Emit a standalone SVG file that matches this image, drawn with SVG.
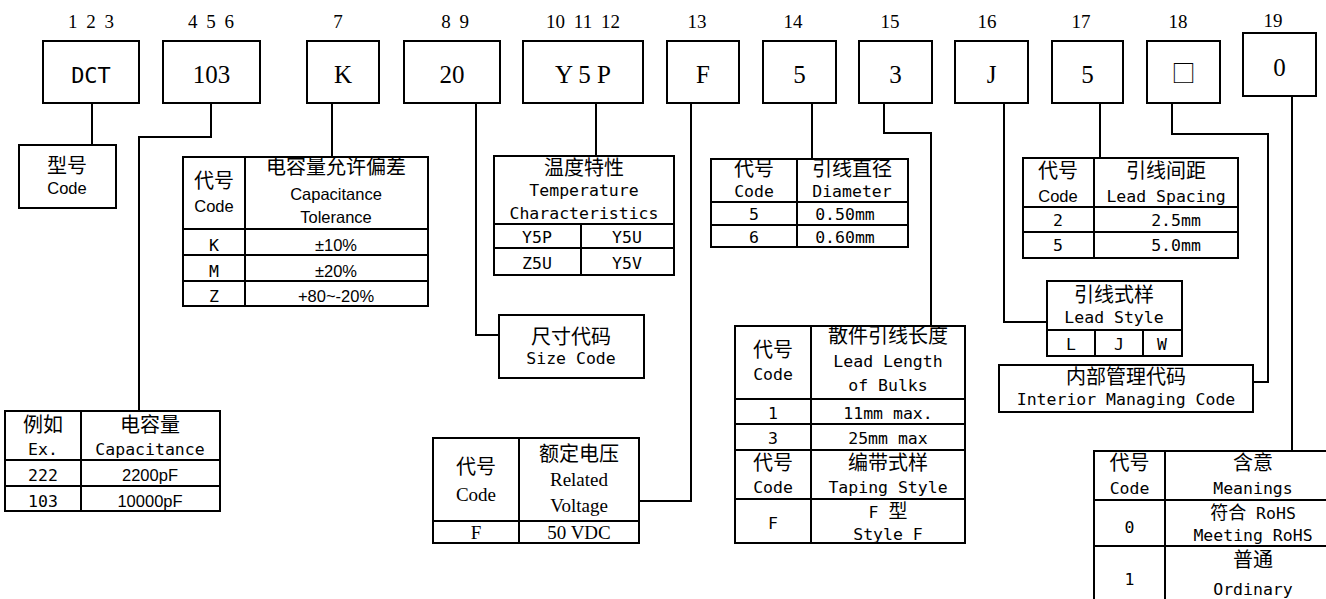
<svg xmlns="http://www.w3.org/2000/svg" width="1326" height="599" viewBox="0 0 1326 599">
<style>
text{text-anchor:middle;fill:#000}
.b{fill:#fff;stroke:#000;stroke-width:2}
.l{fill:none;stroke:#000;stroke-width:2}
.n{font-family:'Liberation Serif',serif;font-size:19px;word-spacing:4px}
.t{font-family:'Liberation Serif',serif;font-size:25px}
.d{font-family:'DejaVu Sans Mono',monospace;font-size:22px}
.c{font-family:'Noto Sans CJK SC',sans-serif;font-size:20px}
.m{font-family:'DejaVu Sans Mono','Noto Sans CJK SC',monospace;font-size:16.5px}
.a{font-family:'Liberation Sans','Noto Sans CJK SC',sans-serif;font-size:16.5px}
.s{font-family:'Liberation Serif',serif;font-size:19px}
</style>
<rect width="1326" height="599" fill="#fff"/>

<g id="labels">
<text class="n" x="91" y="28">1 2 3</text>
<text class="n" x="211" y="28">4 5 6</text>
<text class="n" x="338" y="28">7</text>
<text class="n" x="455" y="28">8 9</text>
<text class="n" x="583" y="28">10 11 12</text>
<text class="n" x="697" y="28">13</text>
<text class="n" x="793" y="28">14</text>
<text class="n" x="890" y="28">15</text>
<text class="n" x="987" y="28">16</text>
<text class="n" x="1081" y="28">17</text>
<text class="n" x="1178" y="28">18</text>
<text class="n" x="1273" y="27">19</text>
</g>

<g id="connectors" class="l">
<path d="M92 103V145"/>
<path d="M211 97V137H139V411"/>
<path d="M332 103V157"/>
<path d="M476 103V335H499"/>
<path d="M596 103V156"/>
<path d="M691 102V501H639"/>
<path d="M812 103V159"/>
<path d="M884 103V133H931V326"/>
<path d="M1004 103V322H1047"/>
<path d="M1100 103V158"/>
<path d="M1172 103V134H1268V382H1253"/>
<path d="M1292 96V451"/>
</g>

<g id="box-dct"><rect class="b" x="43" y="41" width="96" height="62"/><text class="d" x="91" y="83">DCT</text></g>
<g id="box-103"><rect class="b" x="163" y="41" width="97" height="62"/><text class="t" x="211.5" y="83">103</text></g>
<g id="box-k"><rect class="b" x="307" y="41" width="72" height="62"/><text class="t" x="343" y="83">K</text></g>
<g id="box-20"><rect class="b" x="404" y="41" width="96" height="62"/><text class="t" x="452" y="83">20</text></g>
<g id="box-y5p"><rect class="b" x="523" y="41" width="120" height="62"/><text class="t" x="583" y="83">Y 5 P</text></g>
<g id="box-f"><rect class="b" x="667" y="41" width="72" height="62"/><text class="t" x="703" y="83">F</text></g>
<g id="box-5a"><rect class="b" x="763" y="41" width="73" height="62"/><text class="t" x="799.5" y="83">5</text></g>
<g id="box-3"><rect class="b" x="859" y="41" width="73" height="62"/><text class="t" x="895.5" y="83">3</text></g>
<g id="box-j"><rect class="b" x="955" y="41" width="73" height="62"/><text class="t" x="991.5" y="83">J</text></g>
<g id="box-5b"><rect class="b" x="1052" y="41" width="71" height="62"/><text class="t" x="1087.5" y="83">5</text></g>
<g id="box-18"><rect class="b" x="1147" y="41" width="73" height="62"/><text class="c" x="1183.5" y="82" style="font-size:24px">□</text></g>
<g id="box-19"><rect class="b" x="1243" y="33" width="73" height="63"/><text class="t" x="1279.5" y="76">0</text></g>

<g id="type-code"><rect class="b" x="19" y="145" width="97" height="63"/>
<text class="c" x="67" y="173">型号</text><text class="a" x="67" y="194">Code</text></g>

<g id="tolerance-table"><rect class="b" x="183" y="157" width="245" height="149"/>
<path class="l" d="M245 157V306M183 229H428M183 255H428M183 281H428"/>
<text class="c" x="214" y="188">代号</text><text class="a" x="214" y="212">Code</text>
<text class="c" x="336" y="174">电容量允许偏差</text><text class="a" x="336" y="200">Capacitance</text><text class="a" x="336" y="223">Tolerance</text>
<text class="m" x="214" y="251">K</text><text class="a" x="336" y="251">±10%</text>
<text class="m" x="214" y="277">M</text><text class="a" x="336" y="277">±20%</text>
<text class="m" x="214" y="302">Z</text><text class="a" x="336" y="302">+80~-20%</text></g>

<g id="example-table"><rect class="b" x="5" y="411" width="215" height="100"/>
<path class="l" d="M81 411V511M5 460H220M5 486H220"/>
<text class="c" x="43" y="432">例如</text><text class="m" x="43" y="455">Ex.</text>
<text class="c" x="150" y="432">电容量</text><text class="m" x="150" y="455">Capacitance</text>
<text class="m" x="43" y="481">222</text><text class="a" x="150" y="481">2200pF</text>
<text class="m" x="43" y="507">103</text><text class="a" x="150" y="507">10000pF</text></g>

<g id="size-code"><rect class="b" x="499" y="315" width="145" height="63"/>
<text class="c" x="571" y="344">尺寸代码</text><text class="m" x="571" y="364">Size Code</text></g>

<g id="temp-table"><rect class="b" x="494" y="156" width="180" height="119"/>
<path class="l" d="M494 224H674M494 248H674M581 224V275"/>
<text class="c" x="584" y="175">温度特性</text><text class="m" x="584" y="196">Temperature</text><text class="m" x="584" y="219">Characteristics</text>
<text class="m" x="537" y="243">Y5P</text><text class="m" x="627" y="243">Y5U</text>
<text class="m" x="537" y="269">Z5U</text><text class="m" x="627" y="269">Y5V</text></g>

<g id="diameter-table"><rect class="b" x="711" y="159" width="197" height="88"/>
<path class="l" d="M797 159V247M711 202H908M711 225H908"/>
<text class="c" x="754" y="176">代号</text><text class="m" x="754" y="197">Code</text>
<text class="c" x="852" y="176">引线直径</text><text class="m" x="852" y="197">Diameter</text>
<text class="m" x="754" y="220">5</text><text class="m" x="845" y="220">0.50mm</text>
<text class="m" x="754" y="243">6</text><text class="m" x="845" y="243">0.60mm</text></g>

<g id="spacing-table"><rect class="b" x="1023" y="158" width="215" height="100"/>
<path class="l" d="M1094 158V258M1023 207H1238M1023 232H1238"/>
<text class="c" x="1058" y="178">代号</text><text class="a" x="1058" y="202">Code</text>
<text class="c" x="1166" y="178">引线间距</text><text class="m" x="1166" y="202">Lead Spacing</text>
<text class="m" x="1058" y="226">2</text><text class="m" x="1176" y="226">2.5mm</text>
<text class="m" x="1058" y="251">5</text><text class="m" x="1176" y="251">5.0mm</text></g>

<g id="lead-style"><rect class="b" x="1047" y="281" width="135" height="75"/>
<path class="l" d="M1047 330H1182M1095 330V356M1143 330V356"/>
<text class="c" x="1114" y="302">引线式样</text><text class="m" x="1114" y="323">Lead Style</text>
<text class="m" x="1071" y="350">L</text><text class="m" x="1119" y="350">J</text><text class="m" x="1162" y="350">W</text></g>

<g id="managing-code"><rect class="b" x="999" y="365" width="254" height="47"/>
<text class="c" x="1126" y="384">内部管理代码</text><text class="m" x="1126" y="405">Interior Managing Code</text></g>

<g id="length-table"><rect class="b" x="735" y="326" width="230" height="217"/>
<path class="l" d="M811 326V543M735 399H965M735 424H965M735 450H965M735 499H965"/>
<text class="c" x="773" y="357">代号</text><text class="m" x="773" y="380">Code</text>
<text class="c" x="888" y="343">散件引线长度</text><text class="m" x="888" y="367">Lead Length</text><text class="m" x="888" y="391">of Bulks</text>
<text class="m" x="773" y="419">1</text><text class="m" x="888" y="419">11mm max.</text>
<text class="m" x="773" y="444">3</text><text class="m" x="888" y="444">25mm max</text>
<text class="c" x="773" y="470">代号</text><text class="m" x="773" y="493">Code</text>
<text class="c" x="888" y="470">编带式样</text><text class="m" x="888" y="493">Taping Style</text>
<text class="m" x="773" y="529">F</text>
<text class="m" x="888" y="518">F <tspan class="c" style="font-size:19px">型</tspan></text><text class="m" x="888" y="540">Style F</text></g>

<g id="voltage-table"><rect class="b" x="433" y="438" width="206" height="105"/>
<path class="l" d="M519 438V543M433 521H639"/>
<text class="c" x="476" y="474">代号</text><text class="s" x="476" y="501">Code</text>
<text class="c" x="579" y="461">额定电压</text><text class="s" x="579" y="486">Related</text><text class="s" x="579" y="512">Voltage</text>
<text class="s" x="476" y="539">F</text><text class="s" x="579" y="539">50 VDC</text></g>

<g id="meanings-table"><rect class="b" x="1094" y="451" width="250" height="160"/>
<path class="l" d="M1165 451V611M1094 500H1344M1094 546H1344"/>
<text class="c" x="1129.5" y="470">代号</text><text class="m" x="1129.5" y="494">Code</text>
<text class="c" x="1253" y="470">含意</text><text class="m" x="1253" y="494">Meanings</text>
<text class="m" x="1129.5" y="533">0</text>
<text class="m" x="1253" y="519"><tspan class="c" style="font-size:18px">符合</tspan> RoHS</text><text class="m" x="1253" y="541">Meeting RoHS</text>
<text class="m" x="1129.5" y="585">1</text>
<text class="c" x="1253" y="567">普通</text><text class="m" x="1253" y="595">Ordinary</text></g>
</svg>
